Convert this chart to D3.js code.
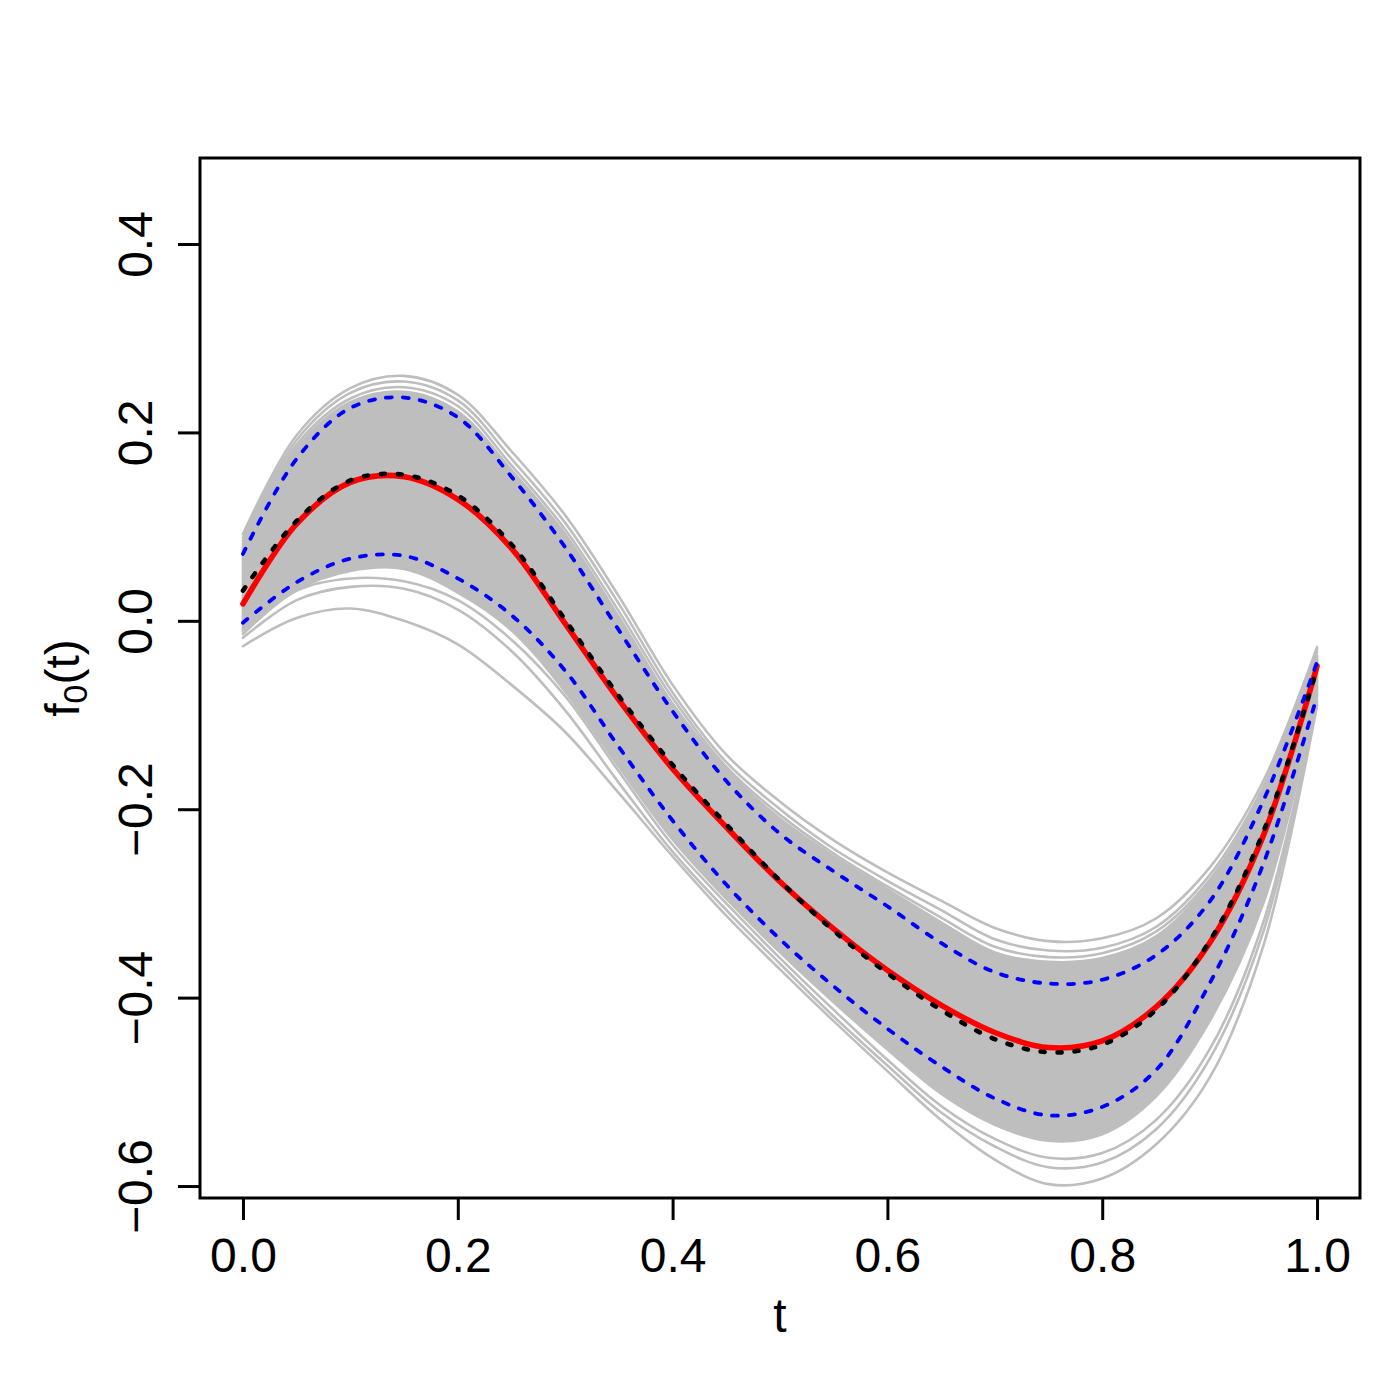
<!DOCTYPE html>
<html>
<head>
<meta charset="utf-8">
<script src="https://cdn.jsdelivr.net/npm/d3@7"></script>
<style>
  body { margin: 0; background: #fff; }
  text { font-family: "Liberation Sans", Arial, sans-serif; }
</style>
</head>
<body>
<svg id="grafica"></svg>
<script>

// rejilla de t (paso 0.05)
const T = [0, 0.05, 0.1, 0.15, 0.2, 0.25, 0.3, 0.35, 0.4, 0.45, 0.5, 0.55, 0.6, 0.65, 0.7, 0.75, 0.8, 0.85, 0.9, 0.95, 1];

// curvas principales
const media    = [0.018, 0.103, 0.147, 0.153, 0.129, 0.077, -0.003, -0.084, -0.157, -0.219, -0.277, -0.327, -0.371, -0.408, -0.437, -0.453, -0.446, -0.41, -0.342, -0.228, -0.048];
const verdad   = [0.032, 0.106, 0.149, 0.155, 0.133, 0.081, 0.001, -0.08, -0.153, -0.216, -0.276, -0.329, -0.374, -0.413, -0.444, -0.458, -0.45, -0.413, -0.34, -0.224, -0.05];
const bandaSup = [0.071, 0.172, 0.226, 0.237, 0.216, 0.153, 0.078, -0.01, -0.096, -0.17, -0.226, -0.266, -0.303, -0.342, -0.373, -0.385, -0.381, -0.355, -0.298, -0.191, -0.044];
const bandaInf = [-0.002, 0.041, 0.066, 0.069, 0.045, 0.006, -0.053, -0.134, -0.212, -0.28, -0.338, -0.388, -0.433, -0.473, -0.507, -0.525, -0.516, -0.477, -0.385, -0.258, -0.08];

// nube gris: nucleo denso
const grisAlto = [0.082, 0.183, 0.232, 0.243, 0.222, 0.16, 0.092, 0.004, -0.088, -0.158, -0.21, -0.25, -0.285, -0.32, -0.352, -0.362, -0.358, -0.335, -0.278, -0.182, -0.036];
const grisBajo = [-0.01, 0.033, 0.053, 0.055, 0.03, -0.01, -0.075, -0.155, -0.232, -0.295, -0.352, -0.405, -0.455, -0.502, -0.535, -0.552, -0.545, -0.505, -0.425, -0.3, -0.08];

// curvas grises sueltas en los bordes
const gTop1 = [0.092, 0.197, 0.247, 0.26, 0.24, 0.18, 0.112, 0.026, -0.068, -0.142, -0.192, -0.233, -0.267, -0.297, -0.326, -0.34, -0.337, -0.316, -0.262, -0.17, -0.028];
const gTop2 = [0.088, 0.192, 0.242, 0.254, 0.234, 0.172, 0.104, 0.018, -0.076, -0.15, -0.2, -0.242, -0.276, -0.307, -0.338, -0.35, -0.347, -0.325, -0.27, -0.176, -0.03];
const gTop3 = [0.085, 0.187, 0.236, 0.248, 0.228, 0.165, 0.097, 0.01, -0.082, -0.155, -0.206, -0.247, -0.282, -0.315, -0.346, -0.357, -0.353, -0.33, -0.275, -0.18, -0.033];
const gLow1 = [-0.027, 0.003, 0.013, 0.0, -0.025, -0.068, -0.118, -0.183, -0.25, -0.313, -0.37, -0.425, -0.478, -0.53, -0.572, -0.598, -0.592, -0.556, -0.485, -0.345, -0.09];
const gLow2 = [-0.014, 0.032, 0.045, 0.042, 0.022, -0.02, -0.08, -0.16, -0.238, -0.3, -0.358, -0.413, -0.466, -0.515, -0.55, -0.57, -0.565, -0.53, -0.455, -0.32, -0.085];
const gLow3 = [-0.018, 0.022, 0.036, 0.034, 0.012, -0.032, -0.095, -0.172, -0.245, -0.307, -0.364, -0.42, -0.472, -0.522, -0.558, -0.58, -0.575, -0.54, -0.465, -0.33, -0.088];

const xTicks = [0, 0.2, 0.4, 0.6, 0.8, 1.0];
const yTicks = [-0.6, -0.4, -0.2, 0, 0.2, 0.4];

const width = 1400;
const height = 1400;
const mLeft = 200, mRight = 1360, mTop = 158, mBottom = 1198;

const svg = d3.select("#grafica")
  .attr("width", width)
  .attr("height", height);

svg.append("rect").attr("width", width).attr("height", height).attr("fill", "#fff");

const x = d3.scaleLinear().domain([-0.04, 1.04]).range([mLeft, mRight]);
const y = d3.scaleLinear().domain([-0.6127, 0.4913]).range([mBottom, mTop]);

const curva = d3.curveCatmullRom.alpha(0.5);

const linea = d3.line()
  .x((d, i) => x(T[i]))
  .y(d => y(d))
  .curve(curva);

const area = d3.area()
  .x((d, i) => x(T[i]))
  .y0((d, i) => y(grisBajo[i]))
  .y1((d, i) => y(grisAlto[i]))
  .curve(curva);

const gris = "#BEBEBE";

svg.append("path")
  .datum(grisAlto)
  .attr("d", area)
  .attr("fill", gris)
  .attr("stroke", gris)
  .attr("stroke-width", 2.6);

[gTop1, gTop2, gTop3, gLow1, gLow2, gLow3].forEach(c => {
  svg.append("path")
    .datum(c)
    .attr("d", linea)
    .attr("fill", "none")
    .attr("stroke", gris)
    .attr("stroke-width", 2.6)
    .attr("stroke-linecap", "round");
});

// media estimada
svg.append("path")
  .datum(media)
  .attr("d", linea)
  .attr("fill", "none")
  .attr("stroke", "#FF0000")
  .attr("stroke-width", 5.6)
  .attr("stroke-linecap", "round");

svg.append("path")
  .datum(verdad)
  .attr("d", linea)
  .attr("fill", "none")
  .attr("stroke", "#000")
  .attr("stroke-width", 4.6)
  .attr("stroke-dasharray", "4,13")
  .attr("stroke-linecap", "round");

[bandaSup, bandaInf].forEach(c => {
  svg.append("path")
    .datum(c)
    .attr("d", linea)
    .attr("fill", "none")
    .attr("stroke", "#0000FF")
    .attr("stroke-width", 3.8)
    .attr("stroke-dasharray", "6,11")
    .attr("stroke-linecap", "round");
});

// ejes
const fmt = d3.format(".1f");

const ejeX = svg.append("g")
  .attr("transform", `translate(0,${mBottom})`)
  .call(d3.axisBottom(x).tickValues(xTicks).tickFormat(fmt).tickSize(22).tickSizeOuter(0));

ejeX.select(".domain").remove();
ejeX.selectAll(".tick line").attr("stroke", "#000").attr("stroke-width", 3);
ejeX.selectAll(".tick text")
  .attr("y", 74)
  .attr("dy", 0)
  .attr("font-size", 48)
  .attr("font-family", "Liberation Sans, Arial, sans-serif")
  .attr("fill", "#000");

const ejeY = svg.append("g")
  .attr("transform", `translate(${mLeft},0)`)
  .call(d3.axisLeft(y).tickValues(yTicks).tickFormat(fmt).tickSize(22).tickSizeOuter(0));

ejeY.select(".domain").remove();
ejeY.selectAll(".tick line").attr("stroke", "#000").attr("stroke-width", 3);
ejeY.selectAll(".tick text")
  .attr("x", 0)
  .attr("dy", 0)
  .attr("text-anchor", "middle")
  .attr("transform", "translate(-48,0) rotate(-90)")
  .attr("font-size", 48)
  .attr("font-family", "Liberation Sans, Arial, sans-serif")
  .attr("fill", "#000");

// marco
svg.append("rect")
  .attr("x", mLeft)
  .attr("y", mTop)
  .attr("width", mRight - mLeft)
  .attr("height", mBottom - mTop)
  .attr("fill", "none")
  .attr("stroke", "#000")
  .attr("stroke-width", 3);

// titulos
svg.append("text")
  .attr("x", (mLeft + mRight) / 2)
  .attr("y", 1332)
  .attr("text-anchor", "middle")
  .attr("font-size", 48)
  .text("t");

const ylab = svg.append("text")
  .attr("transform", `translate(79,${(mTop + mBottom) / 2}) rotate(-90)`)
  .attr("text-anchor", "middle")
  .attr("font-size", 48);
ylab.append("tspan").text("f");
ylab.append("tspan").attr("font-size", 34).attr("dy", 8).text("0");
ylab.append("tspan").attr("dy", -8).text("(t)");

</script>
</body>
</html>
